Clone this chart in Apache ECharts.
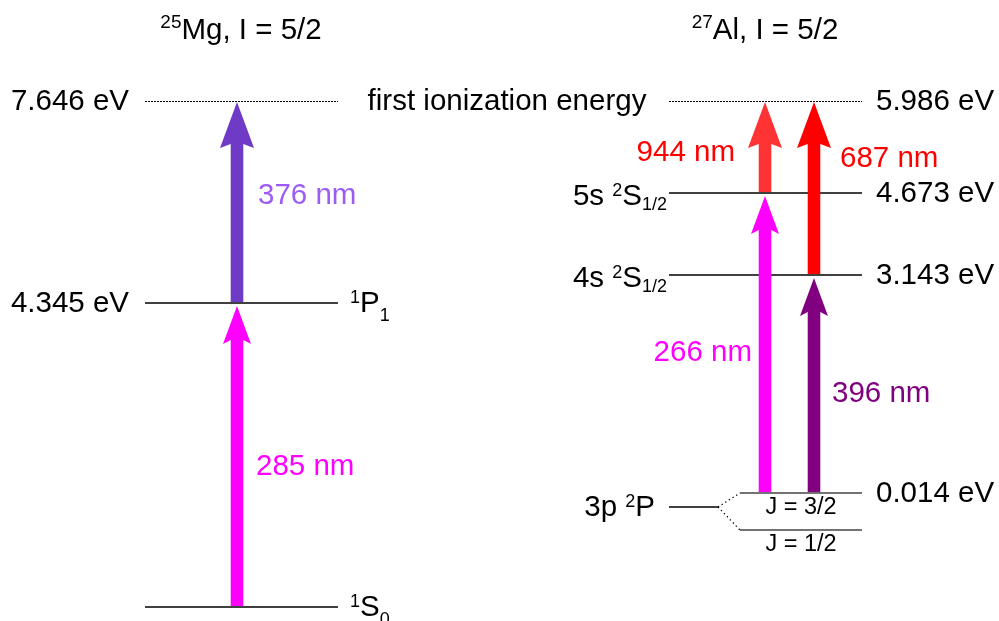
<!DOCTYPE html>
<html>
<head>
  <meta charset="UTF-8">
  <title>Mg / Al level scheme</title>
  <script src="https://cdn.jsdelivr.net/npm/echarts@6/dist/echarts.min.js"></script>
  <style>
    html, body { margin: 0; padding: 0; background: #fff; }
    #main { width: 999px; height: 621px; }
  </style>
</head>
<body>
<div id="main"></div>
<script>
  // 25Mg levels, bottom -> top. height = where the level sits in the sketch (not to scale)
  var mgEnergy = ['', '4.345 eV', '7.646 eV'];
  var mgState = ['{sup|1}S{subB|0}', '{sup|1}P{subB|1}', ''];
  var mgHeight = [607, 303, 101];

  // 27Al levels, bottom -> top
  var alEnergy = ['', '0.014 eV', '3.143 eV', '4.673 eV', '5.986 eV'];
  var alState = ['J = 1/2', 'J = 3/2', '4s {sup|2}S{sub|1/2}', '5s {sup|2}S{sub|1/2}', ''];
  var alHeight = [530, 493, 275, 193, 101];

  // transitions (nm), lower level -> upper level
  var mgLines = [285, 376];
  var mgFrom = [0, 1];
  var mgTo = [1, 2];
  var alLines = [266, 396, 944, 687];
  var alFrom = [1, 1, 3, 2];
  var alTo = [3, 2, 4, 4];

  // ---- layout / styles ----
  var FONT = 'Liberation Sans';
  var FS = 29.5;
  var mgCol = { x0: 145, x1: 338, arrowX: [237, 237] };
  var alCol = { x0: 669, x1: 862, fineX0: 740, p3: [669, 718, 507], arrowX: [765, 814, 765, 814] };
  var mgColors = ['#ff00ff', '#6f3ac6'];
  var mgTextColors = ['#ff00ff', '#9c5cf4'];
  var alColors = ['#ff00ff', '#800080', '#ff3333', '#ff0000'];
  var alTextColors = ['#ff00ff', '#800080', '#ff0000', '#ff0000'];
  // label anchor: [dx from arrow, y, align]
  var mgLabelPos = [[19, 467, 'left'], [21, 196, 'left']];
  var alLabelPos = [[-13, 353, 'right'], [18, 394, 'left'], [-30, 153, 'right'], [26, 159, 'left']];

  var segStyle = [
    { color: '#000', width: 1.5, dash: null, shift: 0 },
    { color: '#000', width: 1, dash: [2, 1], shift: 0.5 },
    { color: '#444', width: 1.5, dash: null, shift: 0 },
    { color: '#000', width: 1.3, dash: [1.3, 3], shift: 0 }
  ];
  var heads = { ion: { len: 46, w: 34 }, exc: { len: 38, w: 28 } };

  var rich = {
    supT: { fontSize: 19, fontFamily: FONT, padding: [0, 0, 17, 0] },
    sup: { fontSize: 18, fontFamily: FONT, padding: [0, 0, 11, 0] },
    sub: { fontSize: 18, fontFamily: FONT, padding: [16, 0, 0, 0] },
    subB: { fontSize: 18, fontFamily: FONT, padding: [24, 0, 0, 0] }
  };

  // ---- build marks ----
  var segs = [];
  var arrows = [];
  var texts = [];

  mgHeight.forEach(function (y, i) {
    var top = i === mgHeight.length - 1;
    segs.push([mgCol.x0, y, mgCol.x1, y, top ? 1 : 0]);
    if (mgEnergy[i]) texts.push({ x: mgCol.x0 - 16, y: y + 1, text: mgEnergy[i], align: 'right' });
    if (mgState[i]) texts.push({ x: mgCol.x1 + 12, y: y + 1, text: mgState[i], align: 'left' });
  });

  alHeight.forEach(function (y, i) {
    var top = i === alHeight.length - 1;
    var fine = i < 2;
    segs.push([fine ? alCol.fineX0 : alCol.x0, y, alCol.x1, y, top ? 1 : (fine ? 2 : 0)]);
    if (alEnergy[i]) texts.push({ x: alCol.x1 + 14, y: y + 1, text: alEnergy[i], align: 'left' });
    if (fine) {
      texts.push({ x: 801, y: y + 15, text: alState[i], align: 'center', size: 23.5 });
    } else if (alState[i]) {
      texts.push({ x: alCol.x0 - 2, y: y + 4, text: alState[i], align: 'right' });
    }
  });
  // 3p 2P with its fine-structure splitting
  segs.push([alCol.p3[0], alCol.p3[2], alCol.p3[1], alCol.p3[2], 0]);
  segs.push([alCol.p3[1], alCol.p3[2], alCol.fineX0, alHeight[1], 3]);
  segs.push([alCol.p3[1], alCol.p3[2], alCol.fineX0, alHeight[0], 3]);
  texts.push({ x: alCol.p3[0] - 14, y: alCol.p3[2] + 1, text: '3p {sup|2}P', align: 'right' });

  texts.push({ x: 241, y: 31, text: '{supT|25}Mg, I = 5/2', align: 'center' });
  texts.push({ x: 765, y: 31, text: '{supT|27}Al, I = 5/2', align: 'center' });
  texts.push({ x: 507, y: 102, text: 'first ionization energy', align: 'center' });

  function addArrows(lines, from, to, heights, col, colors, tcolors, lpos) {
    lines.forEach(function (nm, i) {
      var ion = to[i] === heights.length - 1;
      var base = heights[from[i]] - 1;
      var tip = heights[to[i]] + (ion ? 1 : 3);
      arrows.push({ value: [col.arrowX[i], base, tip], kind: ion ? 'ion' : 'exc', color: colors[i] });
      texts.push({ x: col.arrowX[i] + lpos[i][0], y: lpos[i][1], text: nm + ' nm', align: lpos[i][2], color: tcolors[i] });
    });
  }
  addArrows(mgLines, mgFrom, mgTo, mgHeight, mgCol, mgColors, mgTextColors, mgLabelPos);
  addArrows(alLines, alFrom, alTo, alHeight, alCol, alColors, alTextColors, alLabelPos);

  var chart = echarts.init(document.getElementById('main'));
  chart.setOption({
    animation: false,
    grid: { left: 0, right: 0, top: 0, bottom: 0 },
    xAxis: { type: 'value', min: 0, max: 999, show: false },
    yAxis: { type: 'value', min: 0, max: 621, inverse: true, show: false },
    series: [
      {
        type: 'custom',
        data: segs,
        renderItem: function (params, api) {
          var a = api.coord([api.value(0), api.value(1)]);
          var b = api.coord([api.value(2), api.value(3)]);
          var st = segStyle[api.value(4)];
          return {
            type: 'line',
            shape: { x1: a[0], y1: a[1] + st.shift, x2: b[0], y2: b[1] + st.shift },
            style: { stroke: st.color, lineWidth: st.width, lineDash: st.dash }
          };
        }
      },
      {
        type: 'custom',
        data: arrows.map(function (a) { return a.value; }),
        renderItem: function (params, api) {
          var a = arrows[params.dataIndex];
          var b = api.coord([api.value(0), api.value(1)]);
          var t = api.coord([api.value(0), api.value(2)]);
          var h = heads[a.kind];
          var cx = b[0], s = 6.3, n = 4;
          return {
            type: 'polygon',
            shape: {
              points: [
                [cx, t[1]],
                [cx + h.w / 2, t[1] + h.len],
                [cx + s, t[1] + h.len - n],
                [cx + s, b[1]],
                [cx - s, b[1]],
                [cx - s, t[1] + h.len - n],
                [cx - h.w / 2, t[1] + h.len]
              ]
            },
            style: { fill: a.color }
          };
        }
      },
      {
        type: 'custom',
        data: texts.map(function (t) { return [t.x, t.y]; }),
        renderItem: function (params, api) {
          var t = texts[params.dataIndex];
          var p = api.coord([api.value(0), api.value(1)]);
          return {
            type: 'text',
            x: p[0],
            y: p[1],
            style: {
              text: t.text,
              fill: t.color || '#000',
              fontSize: t.size || FS,
              fontFamily: FONT,
              lineHeight: 40,
              align: t.align,
              verticalAlign: 'middle',
              rich: rich
            }
          };
        }
      }
    ]
  });
</script>
</body>
</html>
